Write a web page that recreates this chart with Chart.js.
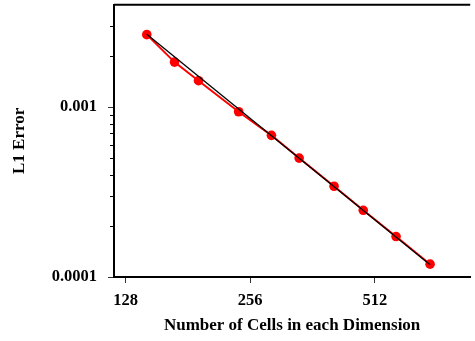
<!DOCTYPE html>
<html>
<head>
<meta charset="utf-8">
<script src="https://cdn.jsdelivr.net/npm/chart.js@4/dist/chart.umd.min.js"></script>
<style>
  html, body { margin: 0; padding: 0; background: #fff; overflow: hidden; }
  canvas { display: block; }
</style>
</head>
<body>
<canvas id="errorChart" width="475" height="341"></canvas>
<script>
// grid sizes and measured L1 errors
const cells = [144, 168, 192, 240, 288, 336, 408, 480, 576, 696];
const l1Error = [2.67e-3, 1.84e-3, 1.43e-3, 9.39e-4, 6.82e-4, 5.01e-4, 3.42e-4, 2.47e-4, 1.73e-4, 1.19e-4];

// second order reference slope (end points)
const refCells = [144, 696];
const refError = [2.68e-3, 1.18e-4];

const xTicks = [128, 256, 512];
const yTicks = [0.0001, 0.001];
const yMinorTicks = [2e-4, 3e-4, 4e-4, 5e-4, 6e-4, 7e-4, 8e-4, 9e-4, 2e-3, 3e-3];

const serif = "'Liberation Serif', 'Times New Roman', serif";

const frame = {
    id: "frame",
    afterDraw(chart) {
        const { ctx, chartArea } = chart;
        const y = chart.scales.y;
        ctx.save();
        // top border
        ctx.strokeStyle = "#000";
        ctx.lineWidth = 2;
        ctx.beginPath();
        ctx.moveTo(chartArea.left, chartArea.top);
        ctx.lineTo(chartArea.right, chartArea.top);
        ctx.stroke();
        // short minor ticks on the log axis
        ctx.lineWidth = 1;
        ctx.beginPath();
        yMinorTicks.forEach(v => {
            const py = Math.round(y.getPixelForValue(v)) + 0.5;
            ctx.moveTo(chartArea.left - 4, py);
            ctx.lineTo(chartArea.left, py);
        });
        ctx.stroke();
        ctx.restore();
    }
};

// keep the plot area fixed regardless of label sizes
function fixBox(size) {
    return s => {
        if (s.isHorizontal()) s.height = size; else s.width = size;
        s.paddingTop = 0;
        s.paddingBottom = 0;
        s.paddingLeft = 0;
        s.paddingRight = 0;
    };
}

new Chart(document.getElementById("errorChart"), {
    type: "scatter",
    data: {
        datasets: [
            {
                data: refCells.map((c, i) => ({ x: c, y: refError[i] })),
                showLine: true,
                borderColor: "#000",
                borderWidth: 1.3,
                pointRadius: 0
            },
            {
                data: cells.map((c, i) => ({ x: c, y: l1Error[i] })),
                showLine: true,
                borderColor: "#ff0000",
                backgroundColor: "#ff0000",
                borderWidth: 2,
                pointRadius: 4.8,
                pointBorderWidth: 0
            }
        ]
    },
    options: {
        responsive: false,
        animation: false,
        layout: { padding: { top: 3, right: 0, left: 0, bottom: 0 } },
        plugins: { legend: { display: false }, tooltip: { enabled: false } },
        scales: {
            x: {
                type: "logarithmic",
                min: 120,
                max: 870,
                bounds: "data",
                afterBuildTicks: s => { s.ticks = xTicks.map(v => ({ value: v })); },
                afterFit: fixBox(64),
                border: { display: true, color: "#000", width: 2 },
                grid: { drawOnChartArea: false, tickLength: 6, tickColor: "#333", tickWidth: 1 },
                ticks: {
                    autoSkip: false,
                    maxRotation: 0,
                    padding: 8,
                    color: "#000",
                    font: { family: serif, size: 16.5, weight: "bold" },
                    callback: v => String(v)
                },
                title: {
                    display: true,
                    text: "Number of Cells in each Dimension",
                    color: "#000",
                    font: { family: serif, size: 17, weight: "bold" },
                    padding: { top: 0, bottom: 5 }
                }
            },
            y: {
                type: "logarithmic",
                min: 1e-4,
                max: 4e-3,
                bounds: "data",
                afterBuildTicks: s => { s.ticks = yTicks.map(v => ({ value: v })); },
                afterFit: fixBox(114),
                border: { display: true, color: "#000", width: 2 },
                grid: { drawOnChartArea: false, tickLength: 6, tickColor: "#333", tickWidth: 1 },
                ticks: {
                    autoSkip: false,
                    padding: 11,
                    color: "#000",
                    font: { family: serif, size: 16.5, weight: "bold" },
                    callback: v => String(v)
                },
                title: {
                    display: true,
                    text: "L1 Error",
                    color: "#000",
                    font: { family: serif, size: 17, weight: "bold" },
                    padding: { top: 9, bottom: 0 }
                }
            }
        }
    },
    plugins: [frame]
});
</script>
</body>
</html>
